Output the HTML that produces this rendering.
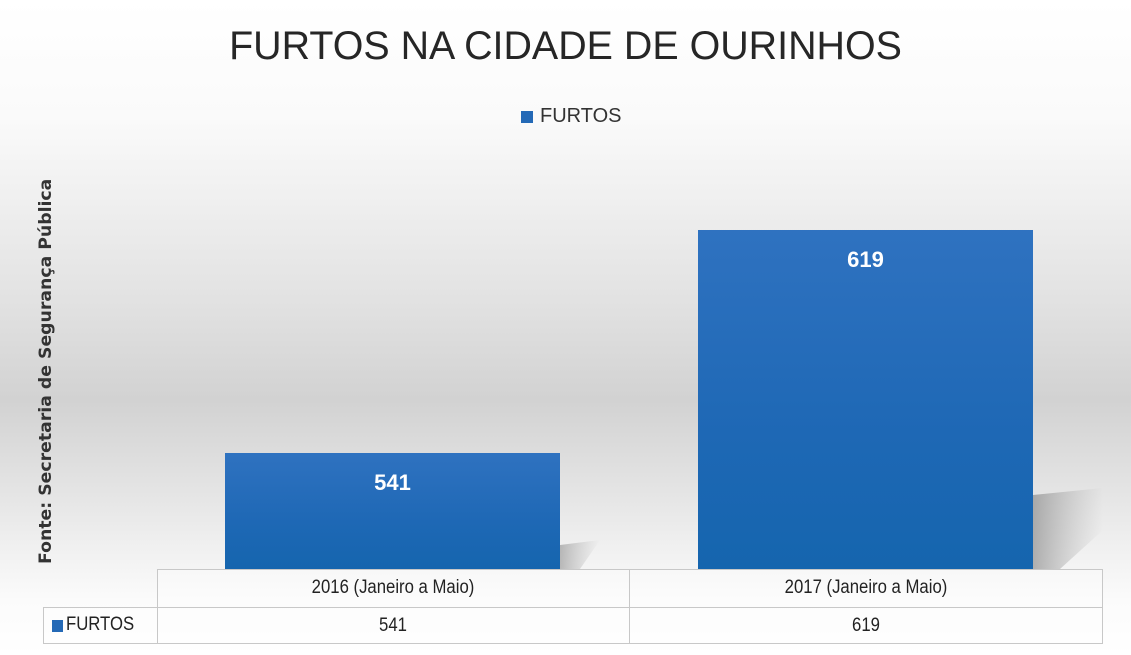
<!DOCTYPE html>
<html><head><meta charset="utf-8"><style>
body{margin:0;width:1131px;height:655px;overflow:hidden;font-family:"Liberation Sans",sans-serif;
background:linear-gradient(to bottom,#fff 0px,#fafafa 120px,#e2e2e2 300px,#d2d2d2 400px,#e6e6e6 500px,#fbfbfb 600px,#fff 655px);position:relative}
.a{position:absolute}
.bar{background:linear-gradient(to bottom,#2f72c0,#1e68b5 60%,#1565ae);}
.t{font-size:19px;color:#222;text-align:center;transform:scaleX(0.88)}
</style></head><body>
<div class="a" style="left:0;width:1131px;top:24px;text-align:center;font-size:40px;color:#262626;transform:scaleX(0.985)">FURTOS NA CIDADE DE OURINHOS</div>
<div class="a" style="left:521px;top:111px;width:12px;height:12px;background:#2469b6"></div>
<div class="a" style="left:540px;top:105px;font-size:20px;color:#333">FURTOS</div>
<div class="a" style="left:36px;top:564px;transform-origin:0 0;transform:rotate(-90deg);font-family:'DejaVu Sans',sans-serif;font-size:17.3px;font-weight:bold;color:#333;white-space:nowrap">Fonte: Secretaria de Segurança Pública</div>
<svg class="a" style="left:0;top:0" width="1131" height="655">
<defs><linearGradient id="s" x1="0" x2="1"><stop offset="0" stop-color="#777" stop-opacity=".8"/><stop offset="1" stop-color="#999" stop-opacity="0"/></linearGradient></defs>
<polygon points="560,569 560,545 600,540 580,569" fill="url(#s)" opacity=".6"/>
<polygon points="1033,569 1033,495 1103,488 1103,530 1060,569" fill="url(#s)" opacity=".7"/>
</svg>
<div class="a bar" style="left:225px;top:453px;width:335px;height:116px"></div>
<div class="a bar" style="left:698px;top:230px;width:335px;height:339px"></div>
<div class="a" style="left:225px;width:335px;top:470px;text-align:center;color:#fff;font-weight:bold;font-size:22px">541</div>
<div class="a" style="left:698px;width:335px;top:247px;text-align:center;color:#fff;font-weight:bold;font-size:22px">619</div>
<div class="a" style="left:157px;top:569px;width:946px;height:38px;border:1px solid #c8c8c8;border-bottom:none;box-sizing:border-box;background:rgba(255,255,255,.3)"></div>
<div class="a" style="left:43px;top:607px;width:1060px;height:37px;border:1px solid #c8c8c8;box-sizing:border-box;background:rgba(255,255,255,.3)"></div>
<div class="a" style="left:157px;top:569px;width:1px;height:75px;background:#c8c8c8"></div>
<div class="a" style="left:629px;top:569px;width:1px;height:75px;background:#c8c8c8"></div>
<div class="a t" style="left:157px;width:472px;top:577px">2016 (Janeiro a Maio)</div>
<div class="a t" style="left:629px;width:474px;top:577px">2017 (Janeiro a Maio)</div>
<div class="a t" style="left:157px;width:472px;top:615px">541</div>
<div class="a t" style="left:629px;width:474px;top:615px">619</div>
<div class="a" style="left:52px;top:620px;width:11px;height:12px;background:#2469b6"></div>
<div class="a" style="left:66px;top:614px;font-size:19px;color:#222;transform:scaleX(0.88);transform-origin:0 0">FURTOS</div>
</body></html>
